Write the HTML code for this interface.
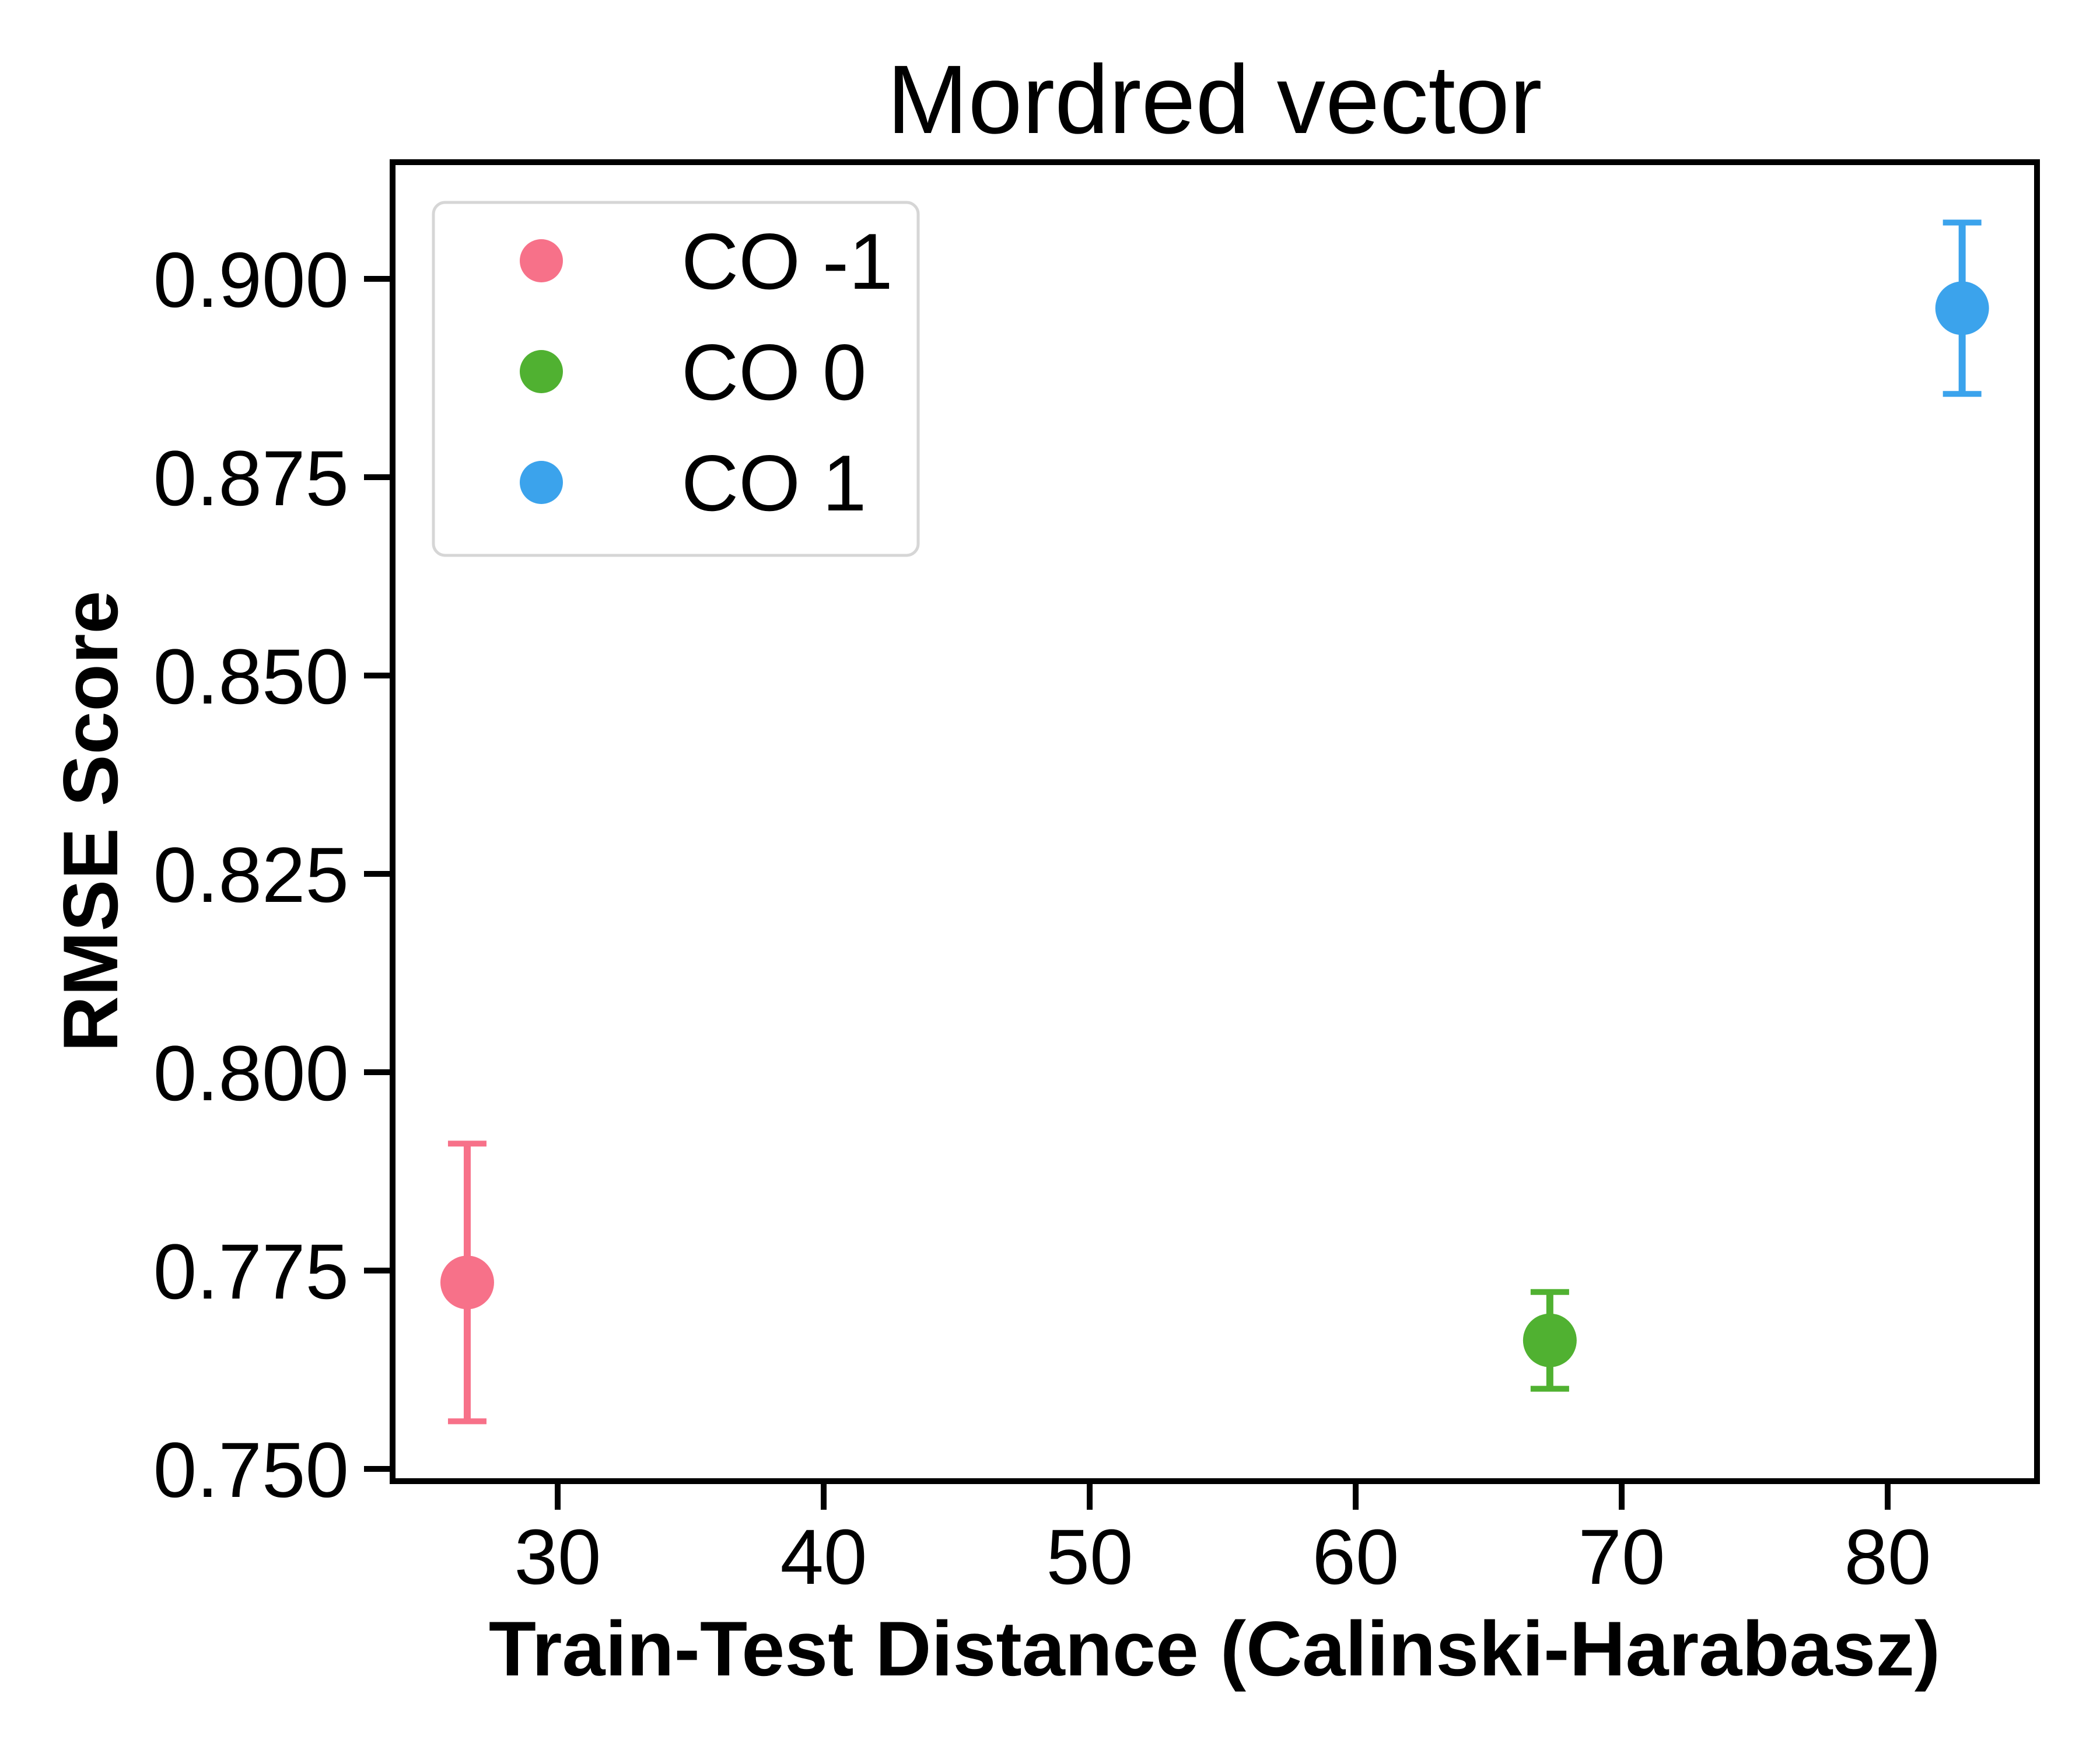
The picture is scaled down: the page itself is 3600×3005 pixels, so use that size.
<!DOCTYPE html>
<html>
<head>
<meta charset="utf-8">
<style>
  html, body { margin: 0; padding: 0; background: #ffffff; }
  body { width: 3600px; height: 3000px; overflow: hidden; }
  svg text { font-family: "Liberation Sans", Arial, sans-serif; fill: #000; }
</style>
</head>
<body>
<svg id="chart" xmlns="http://www.w3.org/2000/svg" width="3600" height="3000" viewBox="0 0 3600 3000">
  <rect x="0" y="0" width="3600" height="3000" fill="#ffffff"/>
  <g id="marks"></g>
  <g id="axes"></g>
  <text x="2082" y="228" font-size="167" text-anchor="middle">Mordred vector</text>
  <text x="2082" y="2872" font-size="133" font-weight="bold" text-anchor="middle">Train-Test Distance (Calinski-Harabasz)</text>
  <text transform="translate(201,1408) rotate(-90)" font-size="133" font-weight="bold" text-anchor="middle">RMSE Score</text>
  <g id="legend">
    <rect x="743" y="347" width="831" height="605" rx="20" ry="20" fill="#ffffff" stroke="#d6d6d6" stroke-width="5"/>
  </g>
</svg>
<script>
const seriesLabels = ["CO -1", "CO 0", "CO 1"];
const seriesColors = ["#f77189", "#50b131", "#3ba3ec"];
const xValues = [26.6, 67.3, 82.8];
const yValues = [0.7735, 0.7662, 0.8963];
const yErrLow = [0.7560, 0.7601, 0.8855];
const yErrHigh = [0.7910, 0.7723, 0.9071];
const xTicks = [30, 40, 50, 60, 70, 80];
const yTicks = [0.750, 0.775, 0.800, 0.825, 0.850, 0.875, 0.900];
const yTickLabels = ["0.750", "0.775", "0.800", "0.825", "0.850", "0.875", "0.900"];

const NS = "http://www.w3.org/2000/svg";
const L = 673, R = 3492, T = 278, B = 2539;
function xScale(v) { return 956 + (v - 30) * 45.6; }
function yScale(v) { return 478 + (0.900 - v) * 13600; }
function mk(tag, attrs, parent) {
  const e = document.createElementNS(NS, tag);
  for (const k in attrs) e.setAttribute(k, attrs[k]);
  parent.appendChild(e);
  return e;
}
const marks = document.getElementById("marks");
const axes = document.getElementById("axes");
const legend = document.getElementById("legend");

for (let i = 0; i < xValues.length; i++) {
  const g = mk("g", {}, marks);
  
  
  const cx = xScale(xValues[i]);
  const c = seriesColors[i];
  const bar = mk("line", {x1: cx, x2: cx, y1: yScale(yErrHigh[i]), y2: yScale(yErrLow[i]), stroke: c, "stroke-width": 12}, g);
  
  
  const capT = mk("line", {x1: cx - 33, x2: cx + 33, y1: yScale(yErrHigh[i]), y2: yScale(yErrHigh[i]), stroke: c, "stroke-width": 10}, g);
  
  
  const capB = mk("line", {x1: cx - 33, x2: cx + 33, y1: yScale(yErrLow[i]), y2: yScale(yErrLow[i]), stroke: c, "stroke-width": 10}, g);
  
  
  const pt = mk("circle", {cx: cx, cy: yScale(yValues[i]), r: 46, fill: c}, g);
  
  
}

const frame = mk("rect", {x: L, y: T, width: R - L, height: B - T, fill: "none", stroke: "#000", "stroke-width": 10}, axes);



for (let i = 0; i < xTicks.length; i++) {
  const x = xScale(xTicks[i]);
  const t = mk("line", {x1: x, x2: x, y1: B, y2: B + 49, stroke: "#000", "stroke-width": 10}, axes);
  
  
  const lb = mk("text", {x: x, y: 2715, "font-size": 134, "text-anchor": "middle"}, axes);
  lb.textContent = String(xTicks[i]);
  
  
}
for (let i = 0; i < yTicks.length; i++) {
  const y = yScale(yTicks[i]);
  const t = mk("line", {x1: L - 49, x2: L, y1: y, y2: y, stroke: "#000", "stroke-width": 10}, axes);
  
  
  const lb = mk("text", {x: 598, y: y + 48, "font-size": 134, "text-anchor": "end"}, axes);
  lb.textContent = yTickLabels[i];
  
  
}

for (let i = 0; i < seriesLabels.length; i++) {
  const cy = 447 + i * 190;
  const g = mk("g", {}, legend);
  
  
  const d = mk("circle", {cx: 928, cy: cy, r: 37, fill: seriesColors[i]}, g);
  
  
  const tx = mk("text", {x: 1168, y: cy + 48, "font-size": 136}, g);
  tx.textContent = seriesLabels[i];
  
  
}
</script>
</body>
</html>
